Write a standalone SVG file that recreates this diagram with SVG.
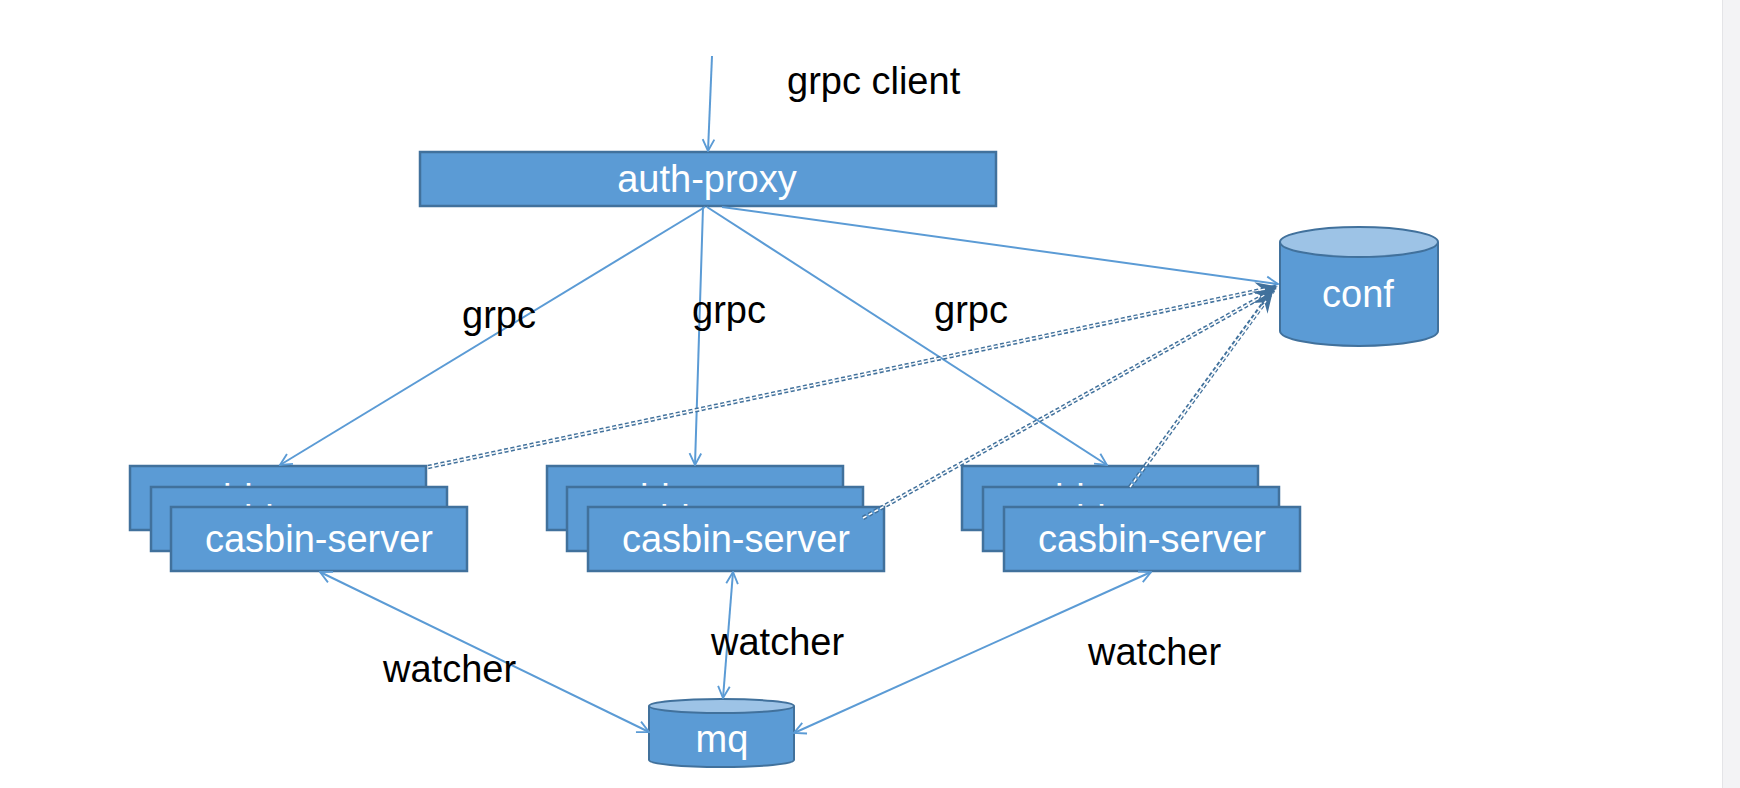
<svg xmlns="http://www.w3.org/2000/svg" width="1740" height="788" viewBox="0 0 1740 788">
<defs>
<style>
.box{fill:#5b9bd5;stroke:#41719c;stroke-width:2.5}
.cyl{fill:#5b9bd5;stroke:#41719c;stroke-width:2}
.cyltop{fill:#9dc3e6;stroke:#41719c;stroke-width:2}
.nt{font-family:"Liberation Sans",Arial,Helvetica,sans-serif;font-size:38px;fill:#ffffff;text-anchor:middle}
.lbl{font-family:"Liberation Sans",Arial,Helvetica,sans-serif;font-size:38px;fill:#000000}
.ln{fill:none;stroke:#5b9bd5;stroke-width:2}
.do{fill:none;stroke:#41719c;stroke-width:4.5;stroke-dasharray:4 2.5}
.di{fill:none;stroke:#ffffff;stroke-width:1.5;stroke-dasharray:4 2.5}
</style>
<marker id="arr" viewBox="0 0 12 12" refX="11" refY="6" markerWidth="14" markerHeight="14" markerUnits="userSpaceOnUse" orient="auto-start-reverse">
<path d="M1,1 L11,6 L1,11" fill="none" stroke="#5b9bd5" stroke-width="1.6"/>
</marker>
<marker id="darr" viewBox="0 0 12 12" refX="11" refY="6" markerWidth="22" markerHeight="22" markerUnits="userSpaceOnUse" orient="auto">
<path d="M0,1 L12,6 L0,11 L4,6 z" fill="#41719c"/>
</marker>
</defs>
<rect x="0" y="0" width="1740" height="788" fill="#ffffff"/>
<rect x="1722" y="0" width="18" height="788" fill="#f3f3f5"/>
<line x1="1722.5" y1="0" x2="1722.5" y2="788" stroke="#e4e4e7" stroke-width="1"/>

<g id="auth-proxy">
<rect class="box" x="420" y="152" width="576" height="54"/>
<text class="nt" x="707" y="192">auth-proxy</text>
</g>

<g id="conf">
<path class="cyl" d="M1280,242 V331 A79,15 0 0 0 1438,331 V242"/>
<ellipse class="cyltop" cx="1359" cy="242" rx="79" ry="15"/>
<text class="nt" x="1358" y="307">conf</text>
</g>

<g id="mq">
<path class="cyl" d="M649,706 V760 A72.5,7 0 0 0 794,760 V706"/>
<ellipse class="cyltop" cx="721.5" cy="706" rx="72.5" ry="7"/>
<text class="nt" x="722" y="752">mq</text>
</g>

<g id="casbin-left">
<rect class="box" x="130" y="466" width="296" height="64"/>
<text class="nt" x="278" y="511">casbin-server</text>
<rect class="box" x="151" y="487" width="296" height="64"/>
<text class="nt" x="299" y="532">casbin-server</text>
<rect class="box" x="171" y="507" width="296" height="64"/>
<text class="nt" x="319" y="552">casbin-server</text>
</g>

<g id="casbin-middle">
<rect class="box" x="547" y="466" width="296" height="64"/>
<text class="nt" x="695" y="511">casbin-server</text>
<rect class="box" x="567" y="487" width="296" height="64"/>
<text class="nt" x="715" y="532">casbin-server</text>
<rect class="box" x="588" y="507" width="296" height="64"/>
<text class="nt" x="736" y="552">casbin-server</text>
</g>

<g id="casbin-right">
<rect class="box" x="962" y="466" width="296" height="64"/>
<text class="nt" x="1110" y="511">casbin-server</text>
<rect class="box" x="983" y="487" width="296" height="64"/>
<text class="nt" x="1131" y="532">casbin-server</text>
<rect class="box" x="1004" y="507" width="296" height="64"/>
<text class="nt" x="1152" y="552">casbin-server</text>
</g>

<g id="connectors">
<line class="ln" x1="712" y1="56" x2="708" y2="151" marker-end="url(#arr)"/>
<line class="ln" x1="705" y1="207" x2="280" y2="465" marker-end="url(#arr)"/>
<line class="ln" x1="703" y1="207" x2="695" y2="465" marker-end="url(#arr)"/>
<line class="ln" x1="707" y1="207" x2="1107" y2="465" marker-end="url(#arr)"/>
<line class="ln" x1="722" y1="207" x2="1278" y2="284" marker-end="url(#arr)"/>

<line class="do" x1="428" y1="467" x2="1276" y2="287" marker-end="url(#darr)"/>
<line class="di" x1="428" y1="467" x2="1266" y2="289"/>
<line class="do" x1="863" y1="518" x2="1274" y2="290" marker-end="url(#darr)"/>
<line class="di" x1="863" y1="518" x2="1265" y2="295"/>
<line class="do" x1="1130" y1="487" x2="1272" y2="292" marker-end="url(#darr)"/>
<line class="di" x1="1130" y1="487" x2="1266" y2="301"/>

<line class="ln" x1="320" y1="572" x2="649" y2="732" marker-start="url(#arr)" marker-end="url(#arr)"/>
<line class="ln" x1="733" y1="572" x2="723" y2="698" marker-start="url(#arr)" marker-end="url(#arr)"/>
<line class="ln" x1="1151" y1="572" x2="794" y2="733" marker-start="url(#arr)" marker-end="url(#arr)"/>
</g>

<g id="labels">
<text class="lbl" x="787" y="94">grpc client</text>
<text class="lbl" x="462" y="328">grpc</text>
<text class="lbl" x="692" y="323">grpc</text>
<text class="lbl" x="934" y="323">grpc</text>
<text class="lbl" x="383" y="682">watcher</text>
<text class="lbl" x="711" y="655">watcher</text>
<text class="lbl" x="1088" y="665">watcher</text>
</g>
</svg>
